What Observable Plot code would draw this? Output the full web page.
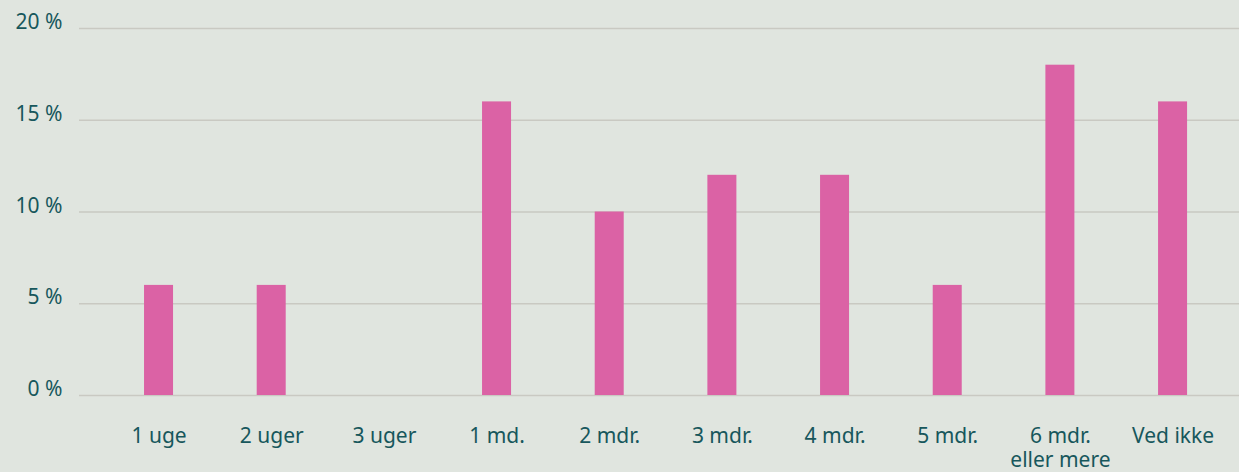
<!DOCTYPE html>
<html><head><meta charset="utf-8">
<script src="https://cdn.jsdelivr.net/npm/d3@7"></script>
<script src="https://cdn.jsdelivr.net/npm/@observablehq/plot@0.6"></script>
<style>
html,body{margin:0;padding:0;background:#e0e5df;}
#chart svg{display:block;}
</style>
</head><body><div id="chart"></div>
<script>
const categories = ["1 uge","2 uger","3 uger","1 md.","2 mdr.","3 mdr.","4 mdr.","5 mdr.","6 mdr.\neller mere","Ved ikke"];
const values = [6, 6, 0, 16, 10, 12, 12, 6, 18, 16];
const yTicks = [0, 5, 10, 15, 20];
const data = categories.map((c, i) => ({cat: c, v: values[i]}));
const textColor = "#17575c";
const chart = Plot.plot({
  width: 1239, height: 472,
  marginLeft: 79, marginRight: 0, marginTop: 28, marginBottom: 77,
  style: {background: "#e0e5df", fontFamily: "'Noto Sans', sans-serif", fontSize: "21px", color: textColor},
  x: {domain: categories, range: [102.2, 1228.9], paddingInner: 0.7426, paddingOuter: 0.3713, round: false, label: null},
  y: {domain: [0, 20], label: null},
  marks: [
    Plot.gridY(yTicks, {stroke: "#c9c9c2", strokeOpacity: 1, strokeWidth: 1.3}),
    Plot.barY(data, {x: "cat", y: "v", fill: "#db62a5"}),
    Plot.axisY(yTicks, {tickSize: 0, tickPadding: 17, dy: -6, fontSize: 21, tickFormat: d => d + " %", fill: textColor, label: null}),
    Plot.axisX(categories, {tickSize: 0, tickPadding: 31, fontSize: 21, fill: textColor, label: null, lineHeight: 1.12})
  ]
});
document.getElementById("chart").appendChild(chart);
</script>
</body></html>
